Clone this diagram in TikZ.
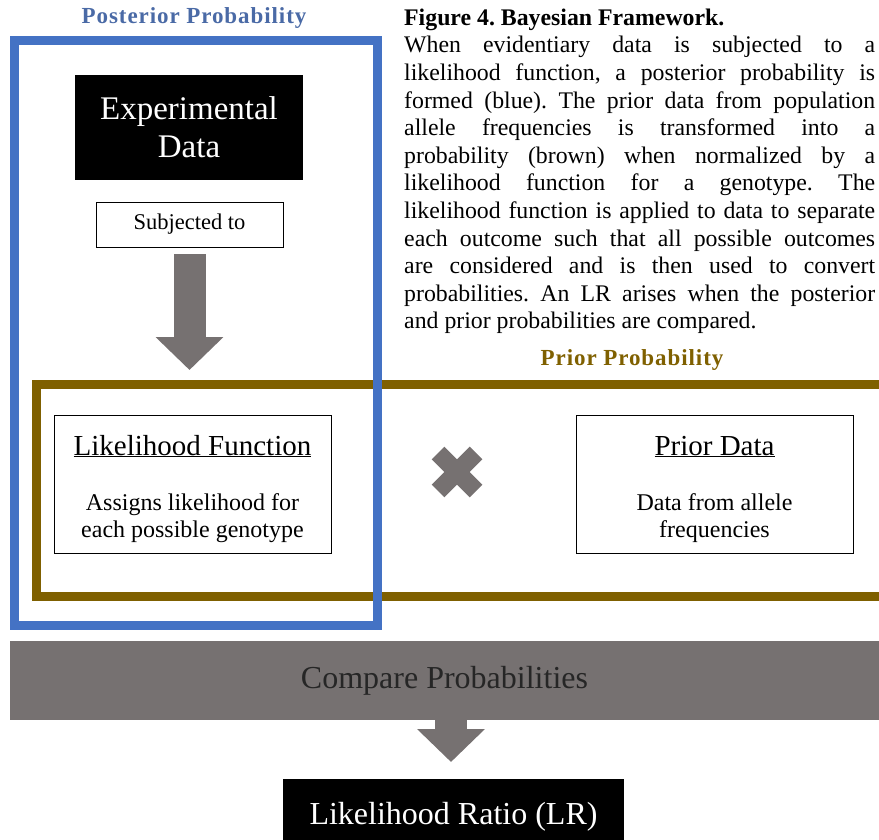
\documentclass[tikz,border=0pt]{standalone}
\usepackage{fontspec}
\setmainfont{Liberation Serif}
\newfontfamily\headfont[LetterSpace=4]{Liberation Serif}
\usetikzlibrary{arrows.meta, shapes.misc}

\definecolor{postblue}{HTML}{4472C4}
\definecolor{titleblue}{HTML}{4A6AA6}
\definecolor{priorbrown}{HTML}{7F6000}
\definecolor{boxgray}{HTML}{767171}

\newcommand{\fsize}[2]{\fontsize{#1}{#2}\selectfont}

\tikzset{
	frame/.style={line width=9pt},
	textbox/.style={draw=black, line width=0.8pt, inner sep=0pt, fill=white},
	blackbox/.style={fill=black, text=white, inner sep=0pt, align=center},
	bigarrow/.style={boxgray, line width=32pt, -{Triangle[length=33pt, width=66pt]}},
	headtitle/.style={font=\headfont\bfseries\fsize{23}{27}}
}

\begin{document}
\frenchspacing
\begin{tikzpicture}[x=1pt, y=-1pt]

	\useasboundingbox (0,0) rectangle (879,840);
	\clip (0,0) rectangle (879,840);

	\node[headtitle, text=titleblue] (posttitle) at (194,18) {Posterior Probability};
	\node[headtitle, text=priorbrown] (priortitle) at (632,360) {Prior Probability};

	\node[anchor=north west, inner sep=0pt, text width=471pt, align=justify,
		font=\fsize{23.8}{27.6}] (caption) at (404,8.5)
		{\hyphenpenalty=10000 {\bfseries Figure 4. Bayesian Framework.}\\
		When evidentiary data is subjected to a\linebreak
		likelihood function, a posterior probability is\linebreak
		formed (blue). The prior data from population\linebreak
		allele frequencies is transformed into a\linebreak
		probability (brown) when normalized by a\linebreak
		likelihood function for a genotype. The\linebreak
		likelihood function is applied to data to separate\linebreak
		each outcome such that all possible outcomes\linebreak
		are considered and is then used to convert\linebreak
		probabilities. An LR arises when the posterior\linebreak
		and prior probabilities are compared.};

	% frames
	\draw[frame, priorbrown] (36,384) rectangle (895,596.5);
	\draw[frame, postblue] (14,41) rectangle (377.5,625);

	\node[blackbox, minimum width=228pt, minimum height=105pt, font=\fsize{33}{38}] (expdata) at (189,127.5) {Experimental\\Data};
	\node[textbox, minimum width=187pt, minimum height=45pt, font=\fsize{22.5}{27}] (subj) at (189.5,224.5) {Subjected to};
	\coordinate (gap) at (189.5,370);
	\draw[bigarrow, shorten <=7pt] (subj) -- (gap);

	\node[textbox, minimum width=277pt, minimum height=138pt] (lik) at (192.5,484) {};
	\node[anchor=base, font=\fsize{29}{34}] (likhead) at (lik.center |- 0,455) {\underline{Likelihood Function}};
	\node[align=center, font=\fsize{24}{27}] (liktext) at (lik.center |- 0,518) {Assigns likelihood for\\each possible genotype};

	\node[cross out, draw=boxgray, line width=18pt, minimum size=38pt, inner sep=0pt, outer sep=0pt] (times) at (457,472) {};

	\node[textbox, minimum width=277pt, minimum height=138pt] (prior) at (714.5,484) {};
	\node[anchor=base, font=\fsize{29}{34}] (priorhead) at (prior.center |- 0,455) {\underline{Prior Data}};
	\node[align=center, font=\fsize{24}{27}] (priortext) at (prior.center |- 0,518) {Data from allele\\frequencies};

	\node[fill=boxgray, minimum width=869pt, minimum height=79pt, inner sep=0pt, font=\fsize{32}{38}, text=black!85] (compare) at (444.5,680.5) {Compare Probabilities};
	\coordinate (tip) at (451,762);
	\draw[bigarrow] (compare.south -| tip) -- (tip);

	\node[blackbox, minimum width=341pt, minimum height=76pt, font=\fsize{32}{38}] (lr) at (453.5,817) {Likelihood Ratio (LR)};

\end{tikzpicture}
\end{document}
